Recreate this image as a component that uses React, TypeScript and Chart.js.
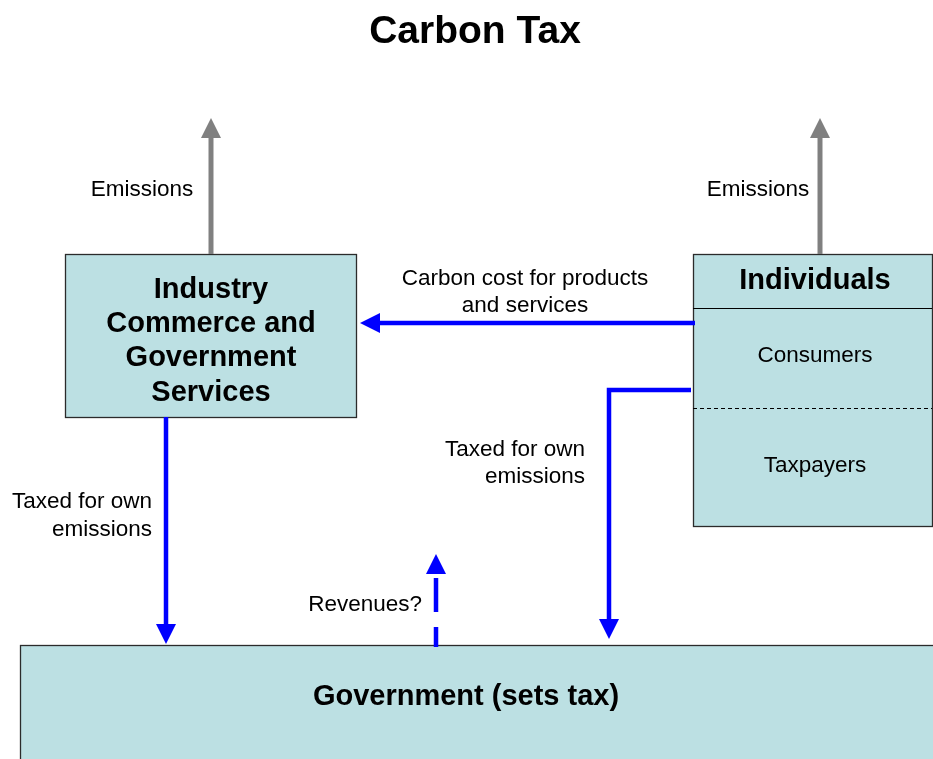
import React, { useEffect, useRef } from "react";
import { Chart, registerables } from "chart.js";

Chart.register(...registerables);

// Diagram units (x: 0..933 left→right, y: 0..759 top→bottom)
const boxNames = ["industry", "individuals", "government"];
const boxX0 = [65, 693, 20];
const boxY0 = [254, 254, 645];
const boxX1 = [356, 932, 945];
const boxY1 = [417, 526, 775];

const dividerYSolid = [308];
const dividerYDashed = [408];

const arrowNames = ["emisLeft", "emisRight", "carbonCost", "taxedRight", "taxedLeft", "revenues"];
const arrowPaths: number[][][] = [
  [[211, 254], [211, 118]],
  [[820, 254], [820, 118]],
  [[695, 323], [360, 323]],
  [[691, 390], [609, 390], [609, 639]],
  [[166, 417], [166, 644]],
  [[436, 647], [436, 554]],
];
const arrowKinds = ["gray", "gray", "blue", "blue", "blue", "blueDashed"];

const labelTexts = [
  "Carbon Tax",
  "Emissions",
  "Emissions",
  "Industry",
  "Commerce and",
  "Government",
  "Services",
  "Individuals",
  "Consumers",
  "Taxpayers",
  "Carbon cost for products",
  "and services",
  "Taxed for own",
  "emissions",
  "Taxed for own",
  "emissions",
  "Revenues?",
  "Government (sets tax)",
];
const labelX = [475, 142, 758, 211, 211, 211, 211, 815, 815, 815, 525, 525, 585, 585, 152, 152, 422, 466];
const labelY = [32, 190, 190, 290, 324, 358, 393, 281, 356, 466, 279, 306, 450, 477, 502, 530, 605, 697];
const labelAlign = ["center", "center", "center", "center", "center", "center", "center", "center", "center", "center", "center", "center", "right", "right", "right", "right", "right", "center"];
const labelStyle = ["title", "n", "n", "b", "b", "b", "b", "b", "n", "n", "n", "n", "n", "n", "n", "n", "n", "b"];

const FONT = "'Liberation Sans', Arial, Helvetica, sans-serif";

const diagramPlugin = {
  id: "diagram",
  afterDraw(chart: any) {
    const ctx = chart.ctx as CanvasRenderingContext2D;
    const xs = chart.scales.x;
    const ys = chart.scales.y;
    const px = (v: number) => xs.getPixelForValue(v);
    const py = (v: number) => ys.getPixelForValue(v);

    ctx.save();
    ctx.fillStyle = "#ffffff";
    ctx.fillRect(0, 0, chart.width, chart.height);

    // boxes
    for (let i = 0; i < boxNames.length; i++) {
      const x0 = px(boxX0[i]), y0 = py(boxY0[i]), x1 = px(boxX1[i]), y1 = py(boxY1[i]);
      ctx.fillStyle = "#BCE0E3";
      ctx.fillRect(x0, y0, x1 - x0, y1 - y0);
      ctx.strokeStyle = "#2b2b2b";
      ctx.lineWidth = 1.3;
      ctx.strokeRect(x0 + 0.5, y0 + 0.5, x1 - x0, y1 - y0);
    }
    // individuals dividers
    const ix0 = px(boxX0[1]), ix1 = px(boxX1[1]);
    ctx.strokeStyle = "#000";
    ctx.lineWidth = 1.2;
    dividerYSolid.forEach((y) => {
      ctx.beginPath();
      ctx.moveTo(ix0, py(y) + 0.5);
      ctx.lineTo(ix1, py(y) + 0.5);
      ctx.stroke();
    });
    ctx.lineWidth = 1;
    ctx.setLineDash([4, 3]);
    dividerYDashed.forEach((y) => {
      ctx.beginPath();
      ctx.moveTo(ix0, py(y) + 0.5);
      ctx.lineTo(ix1, py(y) + 0.5);
      ctx.stroke();
    });
    ctx.setLineDash([]);

    // arrows
    for (let i = 0; i < arrowNames.length; i++) {
      const pts = arrowPaths[i].map((p) => [px(p[0]), py(p[1])]);
      const kind = arrowKinds[i];
      const color = kind === "gray" ? "#808080" : "#0000FF";
      const lw = kind === "gray" ? 5 : 4.5;
      const headLen = 20;
      const headW = 20;
      const n = pts.length;
      const [ax, ay] = pts[n - 2];
      const [bx, by] = pts[n - 1];
      const len = Math.hypot(bx - ax, by - ay);
      const ux = (bx - ax) / len, uy = (by - ay) / len;
      const baseX = bx - ux * headLen, baseY = by - uy * headLen;
      ctx.strokeStyle = color;
      ctx.lineWidth = lw;
      ctx.lineJoin = "miter";
      ctx.lineCap = "butt";
      if (kind === "blueDashed") ctx.setLineDash([20, 15, 34, 200]);
      ctx.beginPath();
      ctx.moveTo(pts[0][0], pts[0][1]);
      for (let k = 1; k < n - 1; k++) ctx.lineTo(pts[k][0], pts[k][1]);
      ctx.lineTo(baseX + ux * 1, baseY + uy * 1);
      ctx.stroke();
      ctx.setLineDash([]);
      ctx.fillStyle = color;
      ctx.beginPath();
      ctx.moveTo(bx, by);
      ctx.lineTo(baseX - uy * headW / 2, baseY + ux * headW / 2);
      ctx.lineTo(baseX + uy * headW / 2, baseY - ux * headW / 2);
      ctx.closePath();
      ctx.fill();
    }

    // labels
    ctx.fillStyle = "#000";
    ctx.textBaseline = "middle";
    for (let i = 0; i < labelTexts.length; i++) {
      const st = labelStyle[i];
      if (st === "title") ctx.font = `bold 39px ${FONT}`;
      else if (st === "b") ctx.font = `bold 29px ${FONT}`;
      else ctx.font = `22.5px ${FONT}`;
      ctx.textAlign = labelAlign[i] as CanvasTextAlign;
      ctx.fillText(labelTexts[i], px(labelX[i]), py(labelY[i]));
    }
    ctx.restore();
  },
};

export default function App() {
  const ref = useRef<HTMLCanvasElement | null>(null);
  useEffect(() => {
    document.body.style.margin = "0";
    if (!ref.current) return;
    const chart = new Chart(ref.current, {
      type: "scatter",
      data: { datasets: [{ data: [], pointRadius: 0 }] },
      options: {
        animation: false,
        responsive: false,
        maintainAspectRatio: false,
        layout: { padding: 0 },
        plugins: { legend: { display: false }, tooltip: { enabled: false }, title: { display: false } },
        scales: {
          x: { type: "linear", min: 0, max: 933, display: false },
          y: { type: "linear", min: 0, max: 759, reverse: true, display: false },
        },
      },
      plugins: [diagramPlugin],
    });
    return () => chart.destroy();
  }, []);
  return (
    <div style={{ width: 933, height: 759 }}>
      <canvas ref={ref} width={933} height={759} style={{ display: "block" }} />
    </div>
  );
}
